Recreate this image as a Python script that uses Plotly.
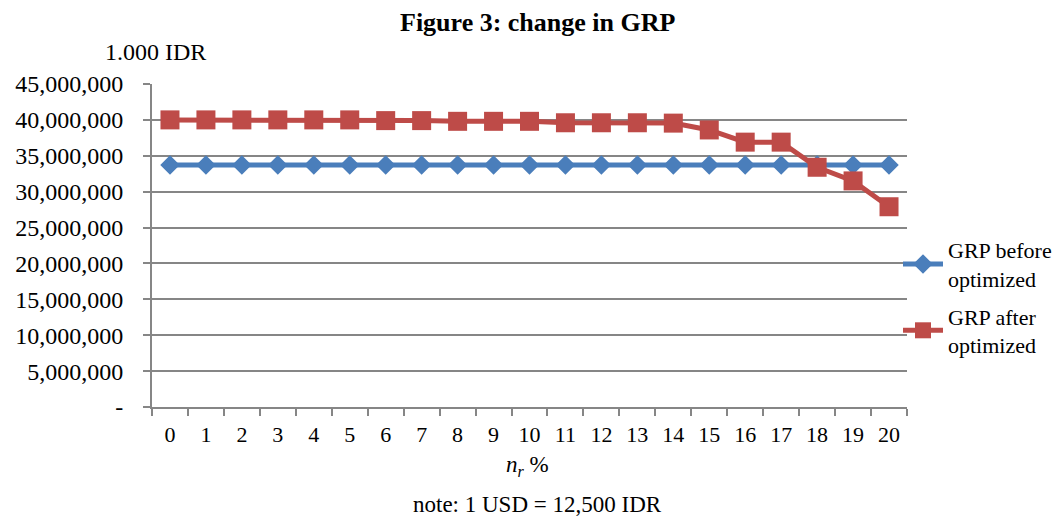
import plotly.graph_objects as go

categories = [str(i) for i in range(21)]
grp_before = [33700000] * 21
grp_after = [40000000, 40000000, 40000000, 40000000, 40000000, 40000000, 39900000,
             39900000, 39800000, 39800000, 39800000, 39600000, 39600000, 39600000,
             39550000, 38600000, 36900000, 36900000, 33400000, 31500000, 27900000]
y_tickvals = [0, 5e6, 10e6, 15e6, 20e6, 25e6, 30e6, 35e6, 40e6, 45e6]
y_ticktext = ["-", "5,000,000", "10,000,000", "15,000,000", "20,000,000", "25,000,000",
              "30,000,000", "35,000,000", "40,000,000", "45,000,000"]

FONT = "Liberation Serif"
GRID = "#868686"

# picture coordinates of the plot area; page body adds an 8px offset
OFF = 8
L, R, T, B = 152, 907, 84, 407
W, H = 1062 - OFF, 519 - OFF


def px(xp):
    return (xp - L) / (R - L)


def py(yp):
    return (B - yp) / (B - T)


fig = go.Figure()
fig.add_trace(go.Scatter(
    x=categories, y=grp_before, mode="lines+markers",
    name="GRP before<br>optimized", legendgroup="a",
    line=dict(color="#4A7EBB", width=5),
    marker=dict(symbol="diamond", size=15, color="#4A7EBB"),
))
fig.add_trace(go.Scatter(
    x=categories, y=grp_after, mode="lines+markers",
    name="GRP after<br>optimized", legendgroup="b",
    line=dict(color="#BE4B48", width=5),
    marker=dict(symbol="square", size=19, color="#BE4B48"),
))

fig.update_layout(
    width=W, height=H,
    margin=dict(l=L - OFF, r=W - (R - OFF), t=T - OFF, b=H - (B - OFF), pad=0,
                autoexpand=False),
    paper_bgcolor="white", plot_bgcolor="white",
    font=dict(family=FONT, color="black", size=22),
    showlegend=True,
    legend=dict(x=px(898), y=py(229), xanchor="left", yanchor="top",
                font=dict(size=22, family=FONT), tracegroupgap=6,
                bgcolor="rgba(0,0,0,0)", itemwidth=40),
)
fig.update_xaxes(
    type="category", range=[-0.5, 20.5], automargin=False,
    showline=True, linecolor=GRID, linewidth=2,
    ticks="outside", tickson="boundaries", ticklen=7, tickcolor=GRID, tickwidth=2,
    showgrid=False, tickfont=dict(size=22, family=FONT),
    ticklabelstandoff=7,
)
fig.update_yaxes(
    range=[0, 45e6], tickvals=y_tickvals, ticktext=y_ticktext, automargin=False,
    showline=True, linecolor=GRID, linewidth=2,
    ticks="outside", ticklen=7, tickcolor=GRID, tickwidth=2,
    showgrid=True, gridcolor=GRID, gridwidth=2,
    tickfont=dict(size=24, family=FONT),
    ticklabelstandoff=15, zeroline=False,
)

annotations = [
    dict(text="<b>Figure 3: change in GRP</b>", x=px(537.5), y=py(22), font=dict(size=26)),
    dict(text="1.000 IDR", x=px(155.5), y=py(52), font=dict(size=24)),
    dict(text="<i>n<sub>r</sub></i> %", x=px(527), y=py(466), font=dict(size=23)),
    dict(text="note: 1 USD = 12,500 IDR", x=px(537), y=py(504), font=dict(size=23)),
]
for a in annotations:
    fig.add_annotation(xref="paper", yref="paper", showarrow=False,
                       xanchor="center", yanchor="middle", **a)

fig.write_html("out.html")
